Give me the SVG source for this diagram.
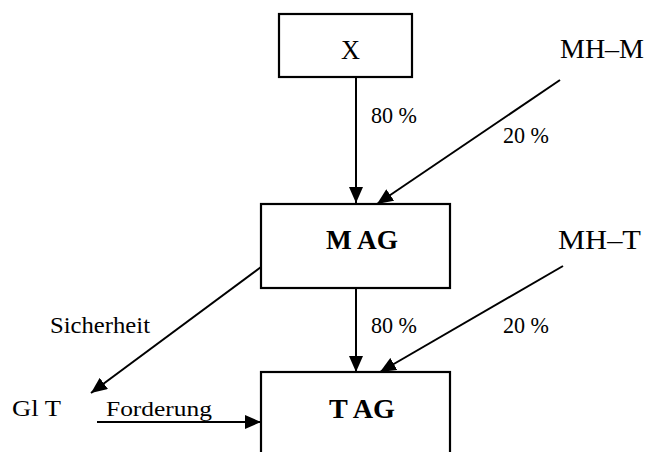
<svg xmlns="http://www.w3.org/2000/svg" width="646" height="452" viewBox="0 0 646 452" font-family="'Liberation Serif', 'DejaVu Serif', serif">
<style>
.box{fill:#fff;stroke:#000;stroke-width:2.2}
text{font-family:"Liberation Serif","DejaVu Serif",serif;fill:#000}
.b{font-weight:bold}
.c{stroke:#000;stroke-width:2;fill:none}
</style>
<defs>
<marker id="ah" viewBox="0 0 16 14" refX="16" refY="7" markerWidth="16" markerHeight="14" markerUnits="userSpaceOnUse" orient="auto">
<path d="M0,0 L16,7 L0,14 Z" fill="#000"/>
</marker>
</defs>
<rect width="646" height="452" fill="#fff"/>
<g id="node-x">
<rect class="box" x="279" y="14" width="133" height="63"/>
<text x="341" y="59" font-size="28" textLength="19" lengthAdjust="spacingAndGlyphs">X</text>
</g>
<g id="node-mhm">
<text x="560" y="58" font-size="27" textLength="84" lengthAdjust="spacingAndGlyphs">MH–M</text>
</g>
<g id="node-mag">
<rect class="box" x="261" y="204" width="189" height="84"/>
<text class="b" x="326" y="249" font-size="27" textLength="72" lengthAdjust="spacingAndGlyphs">M AG</text>
</g>
<g id="node-mht">
<text x="558" y="249" font-size="27" textLength="83" lengthAdjust="spacingAndGlyphs">MH–T</text>
</g>
<g id="node-glt">
<text x="12" y="416" font-size="24" textLength="49" lengthAdjust="spacingAndGlyphs">Gl T</text>
</g>
<g id="node-tag">
<rect class="box" x="261" y="372" width="189" height="90"/>
<text class="b" x="329" y="418" font-size="28" textLength="66" lengthAdjust="spacingAndGlyphs">T AG</text>
</g>
<g id="connectors">
<line class="c" x1="356" y1="77" x2="356" y2="203" marker-end="url(#ah)"/>
<line class="c" x1="560" y1="80" x2="377" y2="204" marker-end="url(#ah)"/>
<line class="c" x1="356" y1="288" x2="356" y2="372" marker-end="url(#ah)"/>
<line class="c" x1="563" y1="266" x2="380" y2="372" marker-end="url(#ah)"/>
<line class="c" x1="261" y1="267" x2="91" y2="393" marker-end="url(#ah)"/>
<line class="c" x1="97" y1="422" x2="261" y2="422" marker-end="url(#ah)"/>
<text x="371" y="123" font-size="24" textLength="46" lengthAdjust="spacingAndGlyphs">80 %</text>
<text x="503" y="143" font-size="24" textLength="46" lengthAdjust="spacingAndGlyphs">20 %</text>
<text x="371" y="333" font-size="24" textLength="46" lengthAdjust="spacingAndGlyphs">80 %</text>
<text x="503" y="333" font-size="24" textLength="46" lengthAdjust="spacingAndGlyphs">20 %</text>
<text x="50" y="333" font-size="23" textLength="100" lengthAdjust="spacingAndGlyphs">Sicherheit</text>
<text x="106" y="416" font-size="22" textLength="106" lengthAdjust="spacingAndGlyphs">Forderung</text>
</g>
</svg>
